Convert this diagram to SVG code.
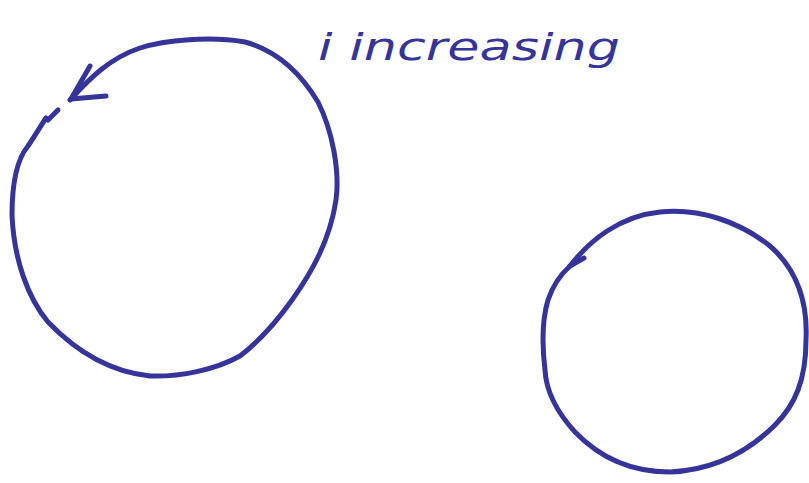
<svg xmlns="http://www.w3.org/2000/svg" width="809" height="483" viewBox="0 0 809 483">
<style>
.ink{fill:none;stroke:#34349a;stroke-width:5;stroke-linecap:round;stroke-linejoin:round}
.lbl{font-family:"DejaVu Sans",sans-serif;font-style:italic;font-size:38px;fill:#34349a}
</style>
<rect width="809" height="483" fill="#fff"/>
<g id="big-circle">
<path class="ink" d="M70,100 C90,78 110,58 140,48 C165,40 210,36 245,42 C275,50 300,72 318,102 C332,130 340,170 336,200 C330,240 312,272 292,300 C275,324 258,342 240,356 C215,370 180,377 150,376 C110,372 75,350 48,322 C28,298 14,260 12,215 C12,180 18,158 28,146 C36,134 42,124 46,118"/>
<path class="ink" d="M48,120 L58,110"/>
<path class="ink" d="M90,66 L71,99 L106,96"/>
</g>
<g id="small-circle">
<path class="ink" d="M570,266 C590,240 620,216 660,212 C700,208 740,222 770,246 C795,268 808,300 806,340 C806,380 795,405 775,425 C750,450 715,470 670,472 C630,472 600,458 575,432 C555,410 546,390 545,370 C542,345 542,320 548,300 C553,285 560,275 570,266"/>
<path class="ink" d="M570,266 L584,258"/>
</g>
<g id="label">
<text class="lbl" x="318" y="60" textLength="302" lengthAdjust="spacingAndGlyphs">i increasing</text>
</g>
</svg>
